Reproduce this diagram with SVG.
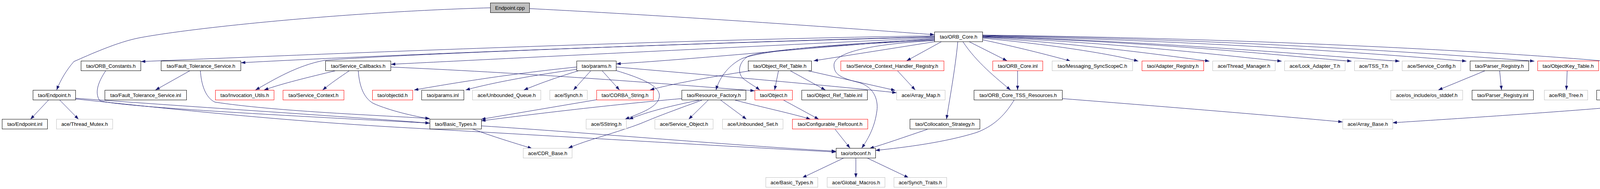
<svg xmlns="http://www.w3.org/2000/svg" width="4345" height="485" viewBox="0 0 4345 485">
<defs>
<marker id="a" markerUnits="userSpaceOnUse" markerWidth="11" markerHeight="8" refX="11" refY="4" orient="auto"><path d="M0,0 L11,4 L0,8 z" fill="#191970"/></marker>
<style>
rect{fill:#fff;stroke:#000;stroke-width:1}
.r rect{stroke:#ff0000}
.g rect{stroke:#bfbfbf}
.root rect{fill:#bfbfbf}
text{font-family:"Liberation Sans",Arial,sans-serif;font-size:13px;text-anchor:middle;fill:#000}
#edges path{fill:none;stroke:#191970;stroke-width:1;marker-end:url(#a)}
</style>
</defs>
<rect x="0" y="0" width="4345" height="485" style="fill:#fff;stroke:none"/>
<g id="edges">
<path d="M1255,20 C900,30 500,70 357,97 C300,108 230,140 189,158 C170,180 155,205 145,231"/>
<path d="M1355,22 C1800,45 2200,75 2392,89"/>
<path d="M124,257 L78,306"/>
<path d="M153,257 L201,306"/>
<path d="M193,252 C500,275 900,300 1100,316"/>
<path d="M193,254 C400,275 700,310 1080,330 C1400,348 1900,378 2140,390"/>
<path d="M271,181 C255,205 240,235 255,258 C300,275 800,300 1100,316"/>
<path d="M487,181 L398,231"/>
<path d="M513,181 C515,215 525,250 550,262 C700,285 950,295 1100,304"/>
<path d="M2392,95 C1800,110 1000,140 617,161"/>
<path d="M2392,92 C1800,100 900,135 361,158"/>
<path d="M2392,97 C1900,120 1300,150 1001,165"/>
<path d="M2392,99 C2100,120 1800,150 1578,164"/>
<path d="M2392,94 C1800,110 1000,140 830,155 C760,168 700,205 654,231"/>
<path d="M2393,107 L2083,156"/>
<path d="M2392,101 C2150,112 1960,128 1900,150 C1860,170 1840,205 1833,231"/>
<path d="M2392,103 C2150,115 1950,128 1914,145 C1885,165 1890,195 1907,205 C1920,215 1935,223 1945,231"/>
<path d="M2410,107 L2321,156"/>
<path d="M2452,107 C2445,180 2430,260 2423,306"/>
<path d="M2465,107 C2500,160 2550,200 2587,231"/>
<path d="M2481,107 L2578,156"/>
<path d="M2392,104 C2200,115 2135,140 2135,167 C2135,190 2150,200 2200,212 C2240,225 2250,260 2244,290 C2238,330 2220,360 2206,380"/>
<path d="M2515,102 C2600,120 2680,140 2741,157"/>
<path d="M2515,98 C2700,115 2850,140 2914,157"/>
<path d="M2515,96 C2800,115 3000,145 3096,157"/>
<path d="M2515,95 C2900,112 3150,145 3281,157"/>
<path d="M2515,94 C3000,110 3300,145 3460,157"/>
<path d="M2515,93 C3000,108 3400,145 3583,157"/>
<path d="M2515,92 C3100,105 3550,140 3754,157"/>
<path d="M2515,91 C3200,102 3700,140 3928,157"/>
<path d="M2515,90 C3300,100 3900,138 4110,157"/>
<path d="M2297,181 L2343,231"/>
<path d="M2066,181 L2292,232"/>
<path d="M1925,181 C1800,200 1700,220 1664,231"/>
<path d="M1993,181 L1983,231"/>
<path d="M2022,181 L2113,231"/>
<path d="M1476,178 C1350,195 1250,215 1192,231"/>
<path d="M1476,172 C1300,190 1150,215 1060,231"/>
<path d="M1483,181 C1420,200 1380,215 1341,231"/>
<path d="M1513,181 L1468,231"/>
<path d="M1541,181 L1586,231"/>
<path d="M1577,181 C1640,200 1690,220 1688,247 C1686,275 1640,290 1600,306"/>
<path d="M1577,172 C1900,200 2150,222 2295,238"/>
<path d="M1527,256 L1232,306"/>
<path d="M1745,253 C1550,270 1350,295 1232,310"/>
<path d="M1790,257 C1700,275 1650,290 1610,306"/>
<path d="M1797,257 C1720,285 1680,300 1640,317 C1580,340 1500,360 1455,380"/>
<path d="M1813,257 L1763,306"/>
<path d="M1845,257 L1911,306"/>
<path d="M1882,257 C1950,275 2030,292 2075,306"/>
<path d="M2006,257 L2096,306"/>
<path d="M2138,332 L2176,380"/>
<path d="M2374,332 C2320,350 2270,368 2226,381"/>
<path d="M2596,257 C2570,300 2540,325 2500,340 C2420,365 2320,378 2241,386"/>
<path d="M2605,181 L2605,231"/>
<path d="M2719,253 C3000,275 3300,300 3437,313"/>
<path d="M4246,181 C4300,205 4315,235 4300,255 C4260,270 3800,300 3565,315"/>
<path d="M4208,181 L4193,231"/>
<path d="M4012,181 L4010,231"/>
<path d="M3839,181 L3844,231"/>
<path d="M3803,181 L3682,231"/>
<path d="M1210,331 C1260,350 1320,368 1362,381"/>
<path d="M1232,323 C1500,340 1900,375 2140,388"/>
<path d="M2159,406 L2054,456"/>
<path d="M2191,406 L2191,456"/>
<path d="M2221,406 L2326,456"/>
<path d="M861,181 C790,198 720,215 676,231"/>
<path d="M895,181 C870,198 845,215 826,231"/>
<path d="M917,181 C920,220 930,250 955,265 C1000,285 1060,298 1100,305"/>
<path d="M1000,172 C1400,190 1700,215 1932,233"/>
</g>
<g id="n1" class="root"><rect x="1255.5" y="7.5" width="100" height="25"/><text x="1305.5" y="24.5">Endpoint.cpp</text></g>
<g id="n2"><rect x="2392.5" y="82" width="123" height="25"/><text x="2454" y="99">tao/ORB_Core.h</text></g>
<g id="n3"><rect x="207.5" y="156.5" width="153" height="25"/><text x="284" y="173.5">tao/ORB_Constants.h</text></g>
<g id="n4"><rect x="412.5" y="156.5" width="204" height="25"/><text x="514.5" y="173.5">tao/Fault_Tolerance_Service.h</text></g>
<g id="n5"><rect x="833.5" y="156.5" width="167" height="25"/><text x="917" y="173.5">tao/Service_Callbacks.h</text></g>
<g id="n6"><rect x="1476.5" y="156.5" width="101" height="25"/><text x="1527" y="173.5">tao/params.h</text></g>
<g id="n7"><rect x="1915.5" y="156.5" width="162" height="25"/><text x="1996.5" y="173.5">tao/Object_Ref_Table.h</text></g>
<g id="n8" class="r"><rect x="2152.5" y="156.5" width="264" height="25"/><text x="2284.5" y="173.5">tao/Service_Context_Handler_Registry.h</text></g>
<g id="n9" class="r"><rect x="2541.5" y="156.5" width="128" height="25"/><text x="2605.5" y="173.5">tao/ORB_Core.inl</text></g>
<g id="n10" class="g"><rect x="2693.5" y="156.5" width="206" height="25"/><text x="2796.5" y="173.5">tao/Messaging_SyncScopeC.h</text></g>
<g id="n11" class="r"><rect x="2923.5" y="156.5" width="158" height="25"/><text x="3002.5" y="173.5">tao/Adapter_Registry.h</text></g>
<g id="n12" class="g"><rect x="3104.5" y="156.5" width="160" height="25"/><text x="3184.5" y="173.5">ace/Thread_Manager.h</text></g>
<g id="n13" class="g"><rect x="3288.5" y="156.5" width="155" height="25"/><text x="3366" y="173.5">ace/Lock_Adapter_T.h</text></g>
<g id="n14" class="g"><rect x="3467.5" y="156.5" width="98" height="25"/><text x="3516.5" y="173.5">ace/TSS_T.h</text></g>
<g id="n15" class="g"><rect x="3589.5" y="156.5" width="150" height="25"/><text x="3664.5" y="173.5">ace/Service_Config.h</text></g>
<g id="n16"><rect x="3763.5" y="156.5" width="150" height="25"/><text x="3838.5" y="173.5">tao/Parser_Registry.h</text></g>
<g id="n17" class="r"><rect x="3936.5" y="156.5" width="156" height="25"/><text x="4014.5" y="173.5">tao/ObjectKey_Table.h</text></g>
<g id="n18"><rect x="4115.5" y="156.5" width="197" height="25"/><text x="4214" y="173.5">tao/Cleanup_Func_Registry.h</text></g>
<g id="n19"><rect x="84.5" y="231.5" width="109" height="25"/><text x="139" y="248.5">tao/Endpoint.h</text></g>
<g id="n20"><rect x="268.5" y="231.5" width="209" height="25"/><text x="373" y="248.5">tao/Fault_Tolerance_Service.inl</text></g>
<g id="n21" class="r"><rect x="551.5" y="231.5" width="150" height="25"/><text x="626.5" y="248.5">tao/Invocation_Utils.h</text></g>
<g id="n22" class="r"><rect x="724.5" y="231.5" width="156" height="25"/><text x="802.5" y="248.5">tao/Service_Context.h</text></g>
<g id="n23" class="r"><rect x="953.5" y="231.5" width="103" height="25"/><text x="1005" y="248.5">tao/objectid.h</text></g>
<g id="n24"><rect x="1079.5" y="231.5" width="108" height="25"/><text x="1133.5" y="248.5">tao/params.inl</text></g>
<g id="n25" class="g"><rect x="1209.5" y="231.5" width="175" height="25"/><text x="1297" y="248.5">ace/Unbounded_Queue.h</text></g>
<g id="n26" class="g"><rect x="1407.5" y="231.5" width="96" height="25"/><text x="1455.5" y="248.5">ace/Synch.h</text></g>
<g id="n27" class="r"><rect x="1527.5" y="231.5" width="145" height="25"/><text x="1600" y="248.5">tao/CORBA_String.h</text></g>
<g id="n28"><rect x="1745.5" y="231.5" width="164" height="25"/><text x="1827.5" y="248.5">tao/Resource_Factory.h</text></g>
<g id="n29" class="r"><rect x="1932.5" y="231.5" width="96" height="25"/><text x="1980.5" y="248.5">tao/Object.h</text></g>
<g id="n30"><rect x="2052.5" y="231.5" width="168" height="25"/><text x="2136.5" y="248.5">tao/Object_Ref_Table.inl</text></g>
<g id="n31" class="g"><rect x="2295.5" y="231.5" width="124" height="25"/><text x="2357.5" y="248.5">ace/Array_Map.h</text></g>
<g id="n32"><rect x="2493.5" y="231.5" width="226" height="25"/><text x="2606.5" y="248.5">tao/ORB_Core_TSS_Resources.h</text></g>
<g id="n33" class="g"><rect x="3560.5" y="231.5" width="184" height="25"/><text x="3652.5" y="248.5">ace/os_include/os_stddef.h</text></g>
<g id="n34"><rect x="3768.5" y="231.5" width="157" height="25"/><text x="3847" y="248.5">tao/Parser_Registry.inl</text></g>
<g id="n35" class="g"><rect x="3953.5" y="231.5" width="111" height="25"/><text x="4009" y="248.5">ace/RB_Tree.h</text></g>
<g id="n36"><rect x="4087.5" y="231.5" width="204" height="25"/><text x="4189.5" y="248.5">tao/Cleanup_Func_Registry.inl</text></g>
<g id="n37"><rect x="5.5" y="306" width="116" height="25"/><text x="63.5" y="323">tao/Endpoint.inl</text></g>
<g id="n38" class="g"><rect x="144.5" y="306" width="144" height="25"/><text x="216.5" y="323">ace/Thread_Mutex.h</text></g>
<g id="n39"><rect x="1100.5" y="306" width="132" height="25"/><text x="1166.5" y="323">tao/Basic_Types.h</text></g>
<g id="n40" class="g"><rect x="1500.5" y="306" width="103" height="25"/><text x="1552" y="323">ace/SString.h</text></g>
<g id="n41" class="g"><rect x="1676.5" y="306" width="149" height="25"/><text x="1751" y="323">ace/Service_Object.h</text></g>
<g id="n42" class="g"><rect x="1849.5" y="306" width="155" height="25"/><text x="1927" y="323">ace/Unbounded_Set.h</text></g>
<g id="n43" class="r"><rect x="2028.5" y="306" width="193" height="25"/><text x="2125" y="323">tao/Configurable_Refcount.h</text></g>
<g id="n44"><rect x="2329.5" y="306" width="179" height="25"/><text x="2419" y="323">tao/Collocation_Strategy.h</text></g>
<g id="n45" class="g"><rect x="3437.5" y="306" width="128" height="25"/><text x="3501.5" y="323">ace/Array_Base.h</text></g>
<g id="n46" class="g"><rect x="1339.5" y="380.5" width="125" height="25"/><text x="1402" y="397.5">ace/CDR_Base.h</text></g>
<g id="n47"><rect x="2140.5" y="380.5" width="101" height="25"/><text x="2191" y="397.5">tao/orbconf.h</text></g>
<g id="n48" class="g"><rect x="1960.5" y="455.5" width="133" height="25"/><text x="2027" y="472.5">ace/Basic_Types.h</text></g>
<g id="n49" class="g"><rect x="2117.5" y="455.5" width="148" height="25"/><text x="2191.5" y="472.5">ace/Global_Macros.h</text></g>
<g id="n50" class="g"><rect x="2288.5" y="455.5" width="135" height="25"/><text x="2356" y="472.5">ace/Synch_Traits.h</text></g>
</svg>
